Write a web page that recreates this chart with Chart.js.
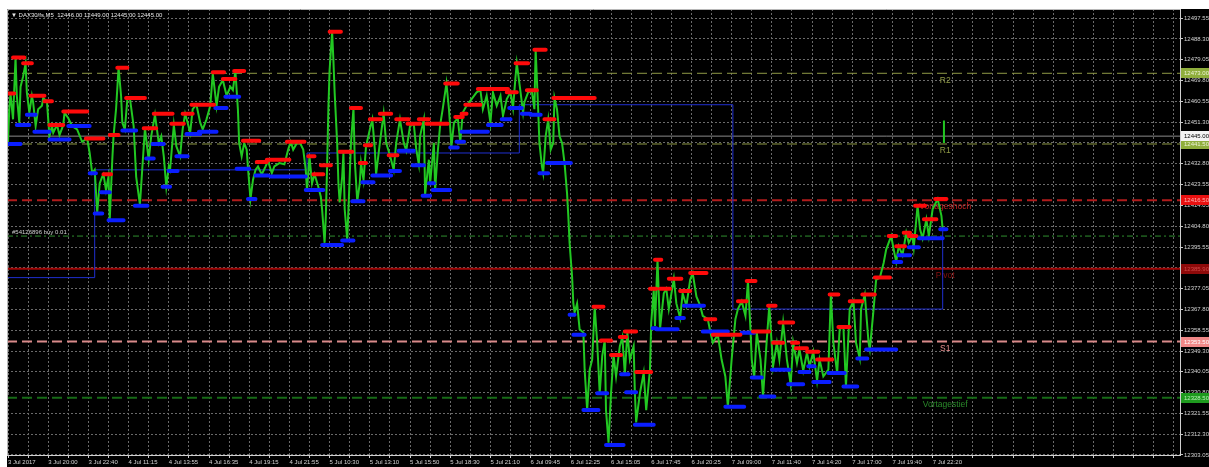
<!DOCTYPE html>
<html>
<head>
<meta charset="utf-8">
<script src="https://cdn.jsdelivr.net/npm/chart.js@4.4.0/dist/chart.umd.min.js"></script>
<style>
    html, body { margin: 0; padding: 0; background: #fff; }
    #chart { display: block; }
</style>
</head>
<body>
<canvas id="chart" width="1209" height="467"></canvas>
<script>
// ===== DATA =====
// x = M5 bar number from the first bar on screen
const timeLabels = [
    "3 Jul 2017", "3 Jul 20:00", "3 Jul 22:40", "4 Jul 11:15", "4 Jul 13:55", "4 Jul 16:35",
    "4 Jul 19:15", "4 Jul 21:55", "5 Jul 10:30", "5 Jul 13:10", "5 Jul 15:50", "5 Jul 18:30",
    "5 Jul 21:10", "6 Jul 09:45", "6 Jul 12:25", "6 Jul 15:05", "6 Jul 17:45", "6 Jul 20:25",
    "7 Jul 09:00", "7 Jul 11:40", "7 Jul 14:20", "7 Jul 17:00", "7 Jul 19:40", "7 Jul 22:20",
];
const barsPerLabel = 32;

const yTickValues = [
    12497.55, 12488.30, 12479.05, 12469.80, 12460.55, 12451.30, 12442.05, 12432.80,
    12423.55, 12414.05, 12404.80, 12395.55, 12386.30, 12377.05, 12367.80, 12358.55,
    12349.30, 12340.05, 12330.80, 12321.55, 12312.30, 12303.05,
];

const headerText = "\u25BC DAX30/fs,M5  12446.00 12449.00 12445.00 12445.00";
const orderText = "#54126896 buy 0.01";

// [bar, price]
const price = [
    [0,12442.5],[1,12457],[2,12464],[4,12452.5],[6,12480],[7,12463],[9,12451],[10,12467],
    [12,12471.5],[14,12477.5],[15,12464.5],[17,12455.5],[19,12463],[20,12460],[22,12449.5],
    [24,12457],[27,12458.5],[28,12462],[31,12460.5],[32,12452.5],[33,12445],[35,12449.5],
    [36,12446.5],[39,12450],[41,12445.5],[44,12450],[45,12455.5],[48,12453],[51,12449.5],
    [55,12448],[59,12442.5],[63,12444],[65,12437.5],[67,12428.5],[69,12430],[71,12411],
    [73,12424],[75,12427],[76,12428],[78,12421],[80,12427],[81,12408],[83,12434.5],[84,12445],
    [86,12457],[88,12475.5],[90,12463],[91,12451],[93,12448],[95,12461.5],[97,12462],
    [100,12449.5],[102,12427],[105,12414.5],[107,12431.5],[109,12448.5],[111,12439],
    [112,12434.5],[114,12445],[117,12454.5],[120,12442],[122,12445],[124,12436],[126,12422.5],
    [128,12431.5],[129,12430],[132,12450],[134,12440.5],[137,12436],[139,12448],[141,12455],
    [143,12451],[145,12446.5],[147,12457],[150,12459],[153,12451],[155,12448],[158,12452.5],
    [161,12458.5],[163,12473],[166,12458.5],[168,12467],[171,12470],[174,12463],[177,12467],
    [179,12465.5],[181,12474],[183,12457],[184,12442],[186,12436],[188,12442],[190,12439],
    [191,12431],[193,12417],[195,12425.5],[197,12430],[199,12431.5],[202,12428],[205,12431.5],
    [207,12434],[210,12428.5],[212,12431.5],[216,12433],[220,12432.5],[223,12439],[225,12442.5],
    [227,12439],[230,12442],[232,12442.5],[235,12439],[237,12430],[238,12421],[240,12436],
    [242,12424],[244,12428],[247,12422.5],[249,12418],[250,12412.5],[252,12397.5],[253,12409.5],
    [254,12431.5],[255,12457],[256,12474.5],[258,12491.5],[259,12479],[260,12464.5],[262,12442],
    [263,12424],[264,12415.5],[266,12427],[267,12437.5],[268,12412.5],[270,12399],[271,12412.5],
    [272,12427],[273,12442],[275,12457.5],[276,12434.5],[278,12416],[280,12424],[281,12433],
    [283,12425.5],[285,12440.5],[288,12448],[290,12452.5],[292,12439],[293,12428],[296,12442],
    [299,12455],[301,12442],[304,12436.5],[307,12430],[309,12442],[312,12452.5],[315,12442],
    [317,12438.5],[320,12449.5],[323,12450.5],[325,12439],[327,12432.5],[328,12445],[331,12452.5],
    [332,12419],[335,12434.5],[336,12424],[339,12442],[340,12421],[342,12437.5],[344,12450],
    [346,12457],[349,12468.5],[351,12457],[353,12440.5],[355,12451],[358,12453],[360,12442.5],
    [362,12455.5],[365,12458.5],[369,12461.5],[373,12464.5],[376,12465.5],[378,12457],
    [381,12463],[384,12451],[386,12464.5],[389,12458.5],[392,12463],[394,12454],[397,12461.5],
    [400,12464.5],[402,12457.5],[404,12471.5],[405,12477.5],[408,12464.5],[410,12455.5],
    [411,12460],[414,12464.5],[417,12465],[419,12457],[420,12483.5],[422,12457],[423,12442],
    [425,12431.5],[426,12428.5],[428,12445],[430,12452.5],[432,12439],[434,12442],[435,12462],
    [437,12457],[439,12445],[441,12442],[443,12433],[445,12419.5],[446,12409.5],[447,12397.5],
    [449,12382.5],[450,12370.5],[451,12366.5],[453,12370.5],[455,12359],[458,12357.5],
    [459,12341],[461,12323],[463,12341],[465,12345.5],[467,12369],[469,12353],[471,12330.5],
    [473,12347],[475,12354],[476,12323],[478,12308.5],[480,12330.5],[482,12347.5],[484,12338],
    [487,12351.5],[489,12355.5],[491,12339],[493,12357.5],[495,12345.5],[498,12351.5],
    [499,12330.5],[500,12317.5],[503,12330.5],[506,12339.5],[508,12323],[511,12341],[512,12362],
    [514,12376.5],[515,12360.5],[517,12390],[519,12359],[522,12375],[524,12377],[526,12368],
    [530,12381.5],[532,12370.5],[535,12364],[537,12375],[540,12369.5],[543,12381],[545,12384],
    [548,12373.5],[551,12369.5],[553,12365],[557,12363.5],[559,12358],[561,12353],[565,12356.5],
    [568,12345.5],[571,12338],[573,12324.5],[576,12345.5],[579,12363.5],[581,12368],[584,12371.5],
    [587,12365],[589,12380.5],[591,12359],[592,12345.5],[594,12337.5],[596,12357.5],[599,12345.5],
    [601,12329],[604,12354.5],[606,12369.5],[609,12342.5],[612,12353],[614,12345.5],[617,12362],
    [620,12345.5],[623,12334.5],[625,12353],[628,12344],[630,12350],[633,12340.5],[636,12348.5],
    [638,12342.5],[641,12349],[644,12336],[646,12345.5],[649,12338],[653,12341],[655,12374.5],
    [657,12353],[660,12339.5],[662,12359],[665,12360],[667,12333.5],[670,12368],[673,12371.5],
    [675,12353],[678,12346],[679,12368],[682,12374.5],[685,12353],[686,12350],[689,12368],
    [691,12381],[694,12382],[697,12388.5],[699,12394.5],[703,12400.5],[705,12394.5],[707,12389],
    [709,12396],[712,12392],[715,12402],[717,12397.5],[720,12400.5],[721,12395.5],[724,12414],
    [726,12403.5],[728,12399.5],[731,12408],[733,12400.5],[736,12412.5],[740,12417],
    [743,12409.5],[744,12403.5],
];
// current bar (gap up): high, low, close
const lastBar = [[745,12452],[745,12442],[745,12445]];

// [fromBar, toBar, price]
const redMarks = [
    [0,5,12464],[4,13,12480],[12,19,12477.5],[18,29,12463],[29,35,12460.5],[33,44,12450],
    [44,63,12456],[62,76,12444],[76,82,12428],[81,88,12445.5],[87,95,12475.5],[94,109,12462],
    [108,118,12448.5],[116,131,12455],[130,140,12450.5],[139,147,12455],[146,164,12459],
    [163,172,12473.5],[171,181,12470.5],[180,188,12474],[187,200,12443],[198,206,12433.5],
    [206,224,12434.5],[222,236,12442.5],[239,244,12436],[243,251,12428],[249,257,12432],
    [256,265,12491.5],[264,274,12438],[273,281,12457.5],[280,285,12433],[284,289,12441],
    [288,297,12452.5],[296,305,12455],[303,310,12436.5],[309,319,12452.5],[318,328,12450.5],
    [327,335,12452.5],[333,350,12450.5],[348,358,12468.5],[356,362,12453.5],[361,365,12455],
    [364,376,12459],[374,398,12466],[397,405,12464.5],[404,414,12477.5],[413,421,12465.5],
    [419,428,12483.5],[427,435,12452.5],[434,467,12462],[466,474,12369],[472,480,12354],
    [480,488,12347.5],[487,492,12355.5],[491,500,12358],[500,512,12340],[511,516,12377],
    [515,520,12390],[519,527,12377],[526,536,12381.5],[535,543,12376],[543,556,12384],
    [555,563,12363.5],[561,583,12356.5],[581,588,12371.5],[588,595,12380.5],[593,606,12358],
    [605,611,12369.5],[609,617,12353],[614,625,12362],[624,629,12353],[627,636,12350.5],
    [636,645,12349],[644,656,12345.5],[654,661,12374.5],[661,670,12360],[670,680,12371.5],
    [680,690,12374.5],[690,702,12382],[701,707,12400.5],[707,714,12396],[713,718,12402],
    [717,723,12400.5],[722,730,12414],[729,739,12408],[738,747,12417],
];
const blueMarks = [
    [0,10,12441.5],[7,17,12450],[15,22,12454.5],[21,33,12447],[33,49,12443.5],[48,65,12449.5],
    [65,70,12428.5],[69,75,12410.5],[74,81,12420],[80,92,12407.5],[91,102,12447.5],
    [101,111,12414],[110,116,12435],[115,124,12441.5],[123,129,12422.5],[128,135,12429.5],
    [134,143,12436],[142,153,12446],[152,166,12447],[165,174,12457.5],[173,184,12462.5],
    [182,192,12430.5],[191,197,12417],[197,207,12427.5],[209,237,12427],[237,251,12421],
    [250,266,12396.5],[266,275,12398.5],[274,283,12416],[282,291,12424.5],[290,305,12427.5],
    [304,312,12429.5],[311,323,12438.5],[322,331,12432],[330,336,12418.5],[335,339,12424],
    [338,352,12421],[352,358,12440],[357,363,12442.5],[361,382,12447],[382,393,12450],
    [393,400,12452.5],[399,409,12457.5],[409,416,12455],[416,424,12454.5],[423,430,12428.5],
    [429,448,12433],[447,451,12365.5],[450,459,12356.5],[458,470,12323],[469,477,12330.5],
    [476,490,12307.5],[488,494,12339],[492,500,12331],[499,514,12316.5],[513,516,12359.5],
    [516,533,12359],[532,538,12364],[538,554,12369.5],[553,573,12358],[571,586,12324.5],
    [584,594,12357.5],[592,600,12337.5],[599,610,12329],[608,622,12341],[621,633,12334.5],
    [630,638,12340],[637,642,12342.5],[641,654,12335.5],[653,666,12339.5],[665,676,12333.5],
    [676,684,12346],[683,707,12350],[705,711,12389],[709,718,12392],[717,725,12395.5],
    [725,744,12399.5],[742,747,12403.5],
];

// range box steps [bar, price]
const boxSteps = [[0,12382],[69,12430],[238,12437.5],[407,12459],[577,12368],[744,12403.5]];

const levelNames = ["R2", "R1", "", "Vortageshoch", "", "Pivot", "S1", "Vortagestief"];
const levelValues = [12473.00, 12441.50, 12445.00, 12416.50, 12400.50, 12385.90, 12353.50, 12328.50];
const labelBar = 746;

// ===== STYLES =====
const levelStyles = [
    { color: "#8f9a45", width: 1, dash: [10, 5], box: "#8fae3c", text: "#eef4d8" },
    { color: "#8f9a45", width: 1, dash: [10, 5], box: "#8fae3c", text: "#eef4d8" },
    { color: "#8a8a8a", width: 1, dash: [], box: "#f4f4f4", text: "#000000" },
    { color: "#b01c1c", width: 2, dash: [10, 5], box: "#e81010", text: "#ffb4b4", label: "#c02424" },
    { color: "#2f8f2f", width: 1, dash: [6, 3, 2, 3], box: null },
    { color: "#a00606", width: 2, dash: [], box: "#8e0a0a", text: "#d04848", label: "#8a1010" },
    { color: "#d98a8a", width: 2, dash: [10, 5], box: "#f08888", text: "#ffffff", label: "#e89090" },
    { color: "#166a16", width: 2, dash: [10, 5], box: "#1e9a1e", text: "#b8f0b8", label: "#2a8a2a" },
];
const r12Label = "#8f9a45";

const X_MIN = -0.8, X_MAX = 932.9;
const Y_MIN = 12303.0, Y_MAX = 12501.63;

function segments(marks) {
    const pts = [];
    marks.forEach(([a, b, v]) => {
        pts.push({ x: a, y: v }, { x: b, y: v }, { x: b, y: null });
    });
    return pts;
}

// ===== PLUGIN: MT4 decorations =====
const mtDecor = {
    id: "mtDecor",
    beforeDraw(chart) {
        const { ctx, chartArea } = chart;
        ctx.save();
        ctx.fillStyle = "#ffffff";
        ctx.fillRect(0, 0, chart.width, chart.height);
        ctx.fillStyle = "#000000";
        ctx.fillRect(chartArea.left, chartArea.top, chart.width - chartArea.left, chart.height - chartArea.top);
        ctx.restore();
    },
    beforeDatasetsDraw(chart) {
        const { ctx } = chart;
        const xs = chart.scales.x, ys = chart.scales.y;
        ctx.save();
        ctx.font = "8.5px 'Liberation Sans', sans-serif";
        ctx.textAlign = "center";
        ctx.textBaseline = "middle";
        levelNames.forEach((name, i) => {
            if (!name) return;
            ctx.fillStyle = levelStyles[i].label || r12Label;
            ctx.fillText(name, xs.getPixelForValue(labelBar), ys.getPixelForValue(levelValues[i]) + 7);
        });
        // order line caption
        ctx.font = "6px 'Liberation Sans', sans-serif";
        ctx.textAlign = "left";
        ctx.fillStyle = "#cfcfcf";
        ctx.fillText(orderText, chart.chartArea.left + 5, ys.getPixelForValue(levelValues[4]) - 4);
        ctx.restore();
    },
    afterDraw(chart) {
        const { ctx, chartArea } = chart;
        const ys = chart.scales.y;
        ctx.save();
        // frame
        ctx.strokeStyle = "#b8b8b8";
        ctx.lineWidth = 1;
        ctx.beginPath();
        ctx.moveTo(chartArea.left + 0.5, chartArea.bottom);
        ctx.lineTo(chartArea.left + 0.5, chartArea.top + 0.5);
        ctx.lineTo(chartArea.right, chartArea.top + 0.5);
        ctx.stroke();
        // header
        ctx.font = "6px 'Liberation Sans', sans-serif";
        ctx.textBaseline = "middle";
        ctx.textAlign = "left";
        ctx.fillStyle = "#e6e6e6";
        ctx.fillText(headerText, chartArea.left + 4, chartArea.top + 6);
        // price boxes on the axis
        levelValues.forEach((v, i) => {
            const st = levelStyles[i];
            if (!st.box) return;
            const y = Math.round(ys.getPixelForValue(v));
            ctx.fillStyle = st.box;
            ctx.fillRect(chartArea.right + 1, y - 5, chart.width - chartArea.right - 1, 10);
            ctx.fillStyle = st.text;
            ctx.fillText(v.toFixed(2), chartArea.right + 4, y + 0.5);
        });
        ctx.restore();
    },
};

// ===== CHART =====
Chart.defaults.font.family = "'Liberation Sans', sans-serif";
Chart.defaults.color = "#d2d2d2";

const datasets = [
    {
        label: "high marks",
        data: segments(redMarks),
        borderColor: "#ff0a0a",
        borderWidth: 4,
        borderCapStyle: "round",
        spanGaps: false,
        order: 0,
    },
    {
        label: "low marks",
        data: segments(blueMarks),
        borderColor: "#0a1eff",
        borderWidth: 4,
        borderCapStyle: "round",
        spanGaps: false,
        order: 0,
    },
    {
        label: "DAX30",
        data: price.map(([x, y]) => ({ x, y }))
            .concat([{ x: 744.5, y: null }], lastBar.map(([x, y]) => ({ x, y }))),
        borderColor: "#22c822",
        borderWidth: 2,
        spanGaps: false,
        order: 1,
    },
    {
        label: "range",
        data: boxSteps.map(([x, y]) => ({ x, y })),
        borderColor: "#1f2fd0",
        borderWidth: 1,
        stepped: "before",
        order: 2,
    },
];
levelValues.forEach((v, i) => {
    datasets.push({
        label: levelNames[i] || "level",
        data: [{ x: X_MIN, y: v }, { x: X_MAX, y: v }],
        borderColor: levelStyles[i].color,
        borderWidth: levelStyles[i].width,
        borderDash: levelStyles[i].dash,
        order: 3,
    });
});

new Chart(document.getElementById("chart"), {
    type: "line",
    data: { datasets },
    options: {
        responsive: false,
        animation: false,
        devicePixelRatio: 1,
        layout: { padding: { left: 7, top: 9, right: 0, bottom: 0 } },
        elements: { point: { radius: 0, hoverRadius: 0 }, line: { tension: 0 } },
        plugins: { legend: { display: false }, tooltip: { enabled: false } },
        events: [],
        scales: {
            x: {
                type: "linear",
                min: X_MIN,
                max: X_MAX,
                afterBuildTicks: (scale) => {
                    const t = [];
                    for (let v = 0; v <= X_MAX; v += barsPerLabel / 2) t.push({ value: v });
                    scale.ticks = t;
                },
                afterFit: (scale) => { scale.height = 12; },
                ticks: {
                    autoSkip: false,
                    maxRotation: 0,
                    align: "start",
                    padding: 1,
                    font: { size: 6 },
                    color: "#d2d2d2",
                    callback: (value) => (value % barsPerLabel === 0 ? timeLabels[value / barsPerLabel] || "" : ""),
                },
                grid: { color: "#6a6a6a", tickColor: "#c8c8c8", tickLength: 3 },
                border: { display: true, color: "#d0d0d0", dash: [2, 2] },
            },
            y: {
                type: "linear",
                position: "right",
                min: Y_MIN,
                max: Y_MAX,
                afterBuildTicks: (scale) => {
                    scale.ticks = yTickValues.map((v) => ({ value: v }));
                },
                afterFit: (scale) => { scale.width = 29; },
                ticks: {
                    autoSkip: false,
                    padding: 1,
                    font: { size: 6 },
                    color: "#d2d2d2",
                    callback: (value) => value.toFixed(2),
                },
                grid: { color: "#6a6a6a", tickColor: "#c8c8c8", tickLength: 3 },
                border: { display: true, color: "#d0d0d0", dash: [2, 2] },
            },
        },
    },
    plugins: [mtDecor],
});
</script>
</body>
</html>
